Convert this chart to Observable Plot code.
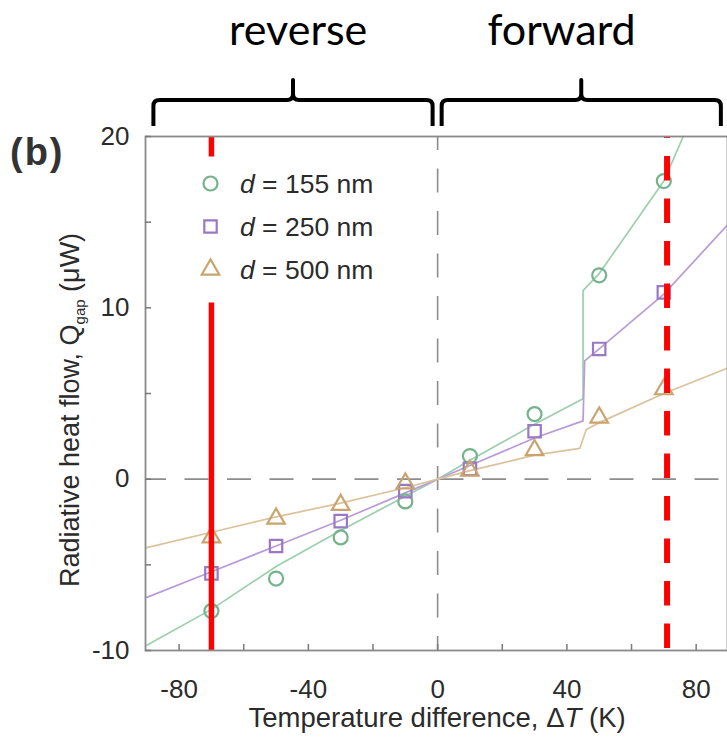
<!DOCTYPE html>
<html><head><meta charset="utf-8">
<script src="https://cdn.jsdelivr.net/npm/d3@7"></script>
<script src="https://cdn.jsdelivr.net/npm/@observablehq/plot@0.6"></script>
<style>
body{margin:0;background:#fff}
#chart{position:relative;width:727px;height:737px}
</style>
</head><body><div id="chart"></div>
<script>
// measured points (ΔT in K, Q in µW)
const temps = [-70, -50, -30, -10, 10, 30, 50, 70];
const q155 = [-7.7, -5.8, -3.4, -1.3, 1.35, 3.8, 11.9, 17.4];
const q250 = [-5.5, -3.9, -2.45, -0.7, 0.6, 2.8, 7.6, 10.9];
const q500 = [-3.4, -2.3, -1.5, -0.25, 0.5, 1.7, 3.6, 5.25];

// model curves
const fitT155 = [-90, -70, -50, -30, -10, 0, 10, 30, 45, 45, 50, 70, 76];
const fitQ155 = [-9.7, -7.6, -5.1, -3.0, -1.0, 0, 1.1, 3.2, 4.7, 11.0, 12.0, 17.4, 20];
const fitT250 = [-90, -70, -50, -30, -10, 0, 10, 30, 45, 45.5, 50, 70, 90];
const fitQ250 = [-6.9, -5.4, -3.9, -2.4, -0.8, 0, 0.8, 2.4, 3.4, 6.9, 7.6, 10.8, 14.9];
const fitT500 = [-90, -70, -50, -30, -10, 0, 10, 30, 44, 46, 50, 70, 90];
const fitQ500 = [-4.0, -3.1, -2.2, -1.4, -0.5, 0, 0.5, 1.4, 1.8, 2.9, 3.3, 5.0, 6.5];

const seriesNames = ["155", "250", "500"];
const symbols = ["circle", "square", "triangle"];
const markColors = ["#74b38c", "#9a78c4", "#c9a46e"];
const lineColors = ["#9ccfae", "#b99bd8", "#dcc29c"];

// axes
const xTicks = [-80, -40, 0, 40, 80];
const xMinor = [-60, -20, 20, 60];
const yTicks = [-10, 0, 10, 20];
const yMinor = [-5, 5, 15];

// annotations
const markerLines = [-70, 71];            // red: solid (reverse), dashed (forward)
const braceLabels = ["reverse", "forward"];
const braceFrom = [-87.8, 1.4];
const braceTo = [-1.4, 87.8];
const braceLabelAt = [-43, 38.5];

const pts = seriesNames.map((n, i) => temps.map((t, j) => ({t, q: [q155, q250, q500][i][j]})));
const fits = [[fitT155, fitQ155], [fitT250, fitQ250], [fitT500, fitQ500]]
  .map(([ts, qs]) => ts.map((t, j) => ({t, q: qs[j]})));

const W = 727, H = 737, ML = 145, MR = 0, MT = 136, MB = 87;
const FW = W - ML - MR, FH = H - MT - MB;
const font = "'Liberation Sans', Arial, sans-serif";

const plot = Plot.plot({
  width: W, height: H,
  marginLeft: ML, marginRight: MR, marginTop: MT, marginBottom: MB,
  style: {fontFamily: font, background: "white", color: "#2b2b2b", overflow: "visible"},
  x: {domain: [-90.4, 89.7], label: null},
  y: {domain: [-10, 20], label: null},
  marks: [
    Plot.ruleY([0], {stroke: "#8c8c8c", strokeWidth: 1.6, strokeDasharray: "24,18.5", strokeDashoffset: 3}),
    Plot.ruleX([0], {stroke: "#8c8c8c", strokeWidth: 1.6, strokeDasharray: "24,18.5", strokeDashoffset: 10}),
    ...fits.map((f, i) => Plot.line(f, {x: "t", y: "q", stroke: lineColors[i], strokeWidth: 1.7})),
    ...pts.map((p, i) => Plot.dot(p, {x: "t", y: "q", symbol: symbols[i], r: i === 2 ? 6.5 : 7,
      stroke: markColors[i], strokeWidth: 2.2, fill: "none"})),
    Plot.ruleX([markerLines[0]], {stroke: "#ff0000", strokeWidth: 5.5}),
    Plot.ruleX([markerLines[1]], {stroke: "#ff0000", strokeWidth: 6, strokeDasharray: "24.5,18", strokeDashoffset: 22.5}),
    Plot.frame({fill: "white", stroke: null, insetLeft: 45, insetRight: 330, insetTop: 20, insetBottom: 348}),
    ...seriesNames.map((n, i) => Plot.dot([n], {frameAnchor: "top-left", dx: 65, dy: 47 + i * 43,
      symbol: symbols[i], r: i === 2 ? 6.5 : 7, stroke: markColors[i], strokeWidth: 2.2, fill: "none"})),
    Plot.frame({stroke: "#8a8a8a", strokeWidth: 1.8}),
    Plot.tickX([...xTicks, ...xMinor], {x: d => d, insetTop: FH - 6, stroke: "#7a7a7a", strokeWidth: 1.5}),
    Plot.tickY([...yTicks, ...yMinor], {y: d => d, insetRight: FW - 6, stroke: "#7a7a7a", strokeWidth: 1.5}),
    Plot.axisX(xTicks, {tickSize: 0, tickPadding: 29, fontSize: 26, fill: "#2b2b2b", label: null, tickFormat: d => `${d}`}),
    Plot.axisY(yTicks, {tickSize: 0, tickPadding: 16, fontSize: 26, fill: "#2b2b2b", label: null, tickFormat: d => `${d}`})
  ]
});
document.getElementById("chart").appendChild(plot);

const svg = d3.select(plot);
const xs = plot.scale("x");

// braces + labels
const g = svg.append("g");
braceLabels.forEach((lab, i) => {
  const x1 = xs.apply(braceFrom[i]), x2 = xs.apply(braceTo[i]), xm = (x1 + x2) / 2;
  const yt = 100, ye = 126, yn = 80, r = 6;
  g.append("path")
    .attr("d", `M${x1},${ye} L${x1},${yt + r} Q${x1},${yt} ${x1 + r},${yt} L${xm - r},${yt} Q${xm},${yt} ${xm},${yt - r} L${xm},${yn} L${xm},${yt - r} Q${xm},${yt} ${xm + r},${yt} L${x2 - r},${yt} Q${x2},${yt} ${x2},${yt + r} L${x2},${ye}`)
    .attr("fill", "none").attr("stroke", "#000").attr("stroke-width", 4).attr("stroke-linejoin", "round");
  g.append("text").attr("x", xs.apply(braceLabelAt[i])).attr("y", 45)
    .attr("text-anchor", "middle").attr("font-family", "Lato, 'Open Sans', sans-serif")
    .attr("font-size", 43).attr("fill", "#000").text(lab);
});

// panel label
svg.append("text").attr("x", 10).attr("y", 165).attr("text-anchor", "start").attr("font-family", font)
  .attr("font-weight", "bold").attr("font-size", 38).attr("letter-spacing", 2).attr("fill", "#333").text("(b)");

// legend labels
seriesNames.forEach((n, i) => {
  const t = svg.append("text").attr("x", 240).attr("y", MT + 47 + i * 43 + 9.5).attr("text-anchor", "start")
    .attr("font-family", font).attr("font-size", 26.5).attr("fill", "#2b2b2b");
  t.append("tspan").attr("font-style", "italic").text("d");
  t.append("tspan").text(` = ${n} nm`);
});

// x axis title
const xt = svg.append("text").attr("x", xs.apply(0)).attr("y", 727).attr("text-anchor", "middle")
  .attr("font-family", font).attr("font-size", 27.5).attr("fill", "#2b2b2b");
xt.append("tspan").text("Temperature difference, Δ");
xt.append("tspan").attr("font-style", "italic").text("T");
xt.append("tspan").text(" (K)");

// y axis title
const yt = svg.append("text").attr("transform", "translate(79,410) rotate(-90)").attr("text-anchor", "middle")
  .attr("font-family", font).attr("font-size", 27).attr("fill", "#2b2b2b");
yt.append("tspan").text("Radiative heat flow, Q");
yt.append("tspan").attr("font-size", 15).attr("dy", 6).text("gap");
yt.append("tspan").attr("dy", -6).text(" (μW)");
</script>
</body></html>
